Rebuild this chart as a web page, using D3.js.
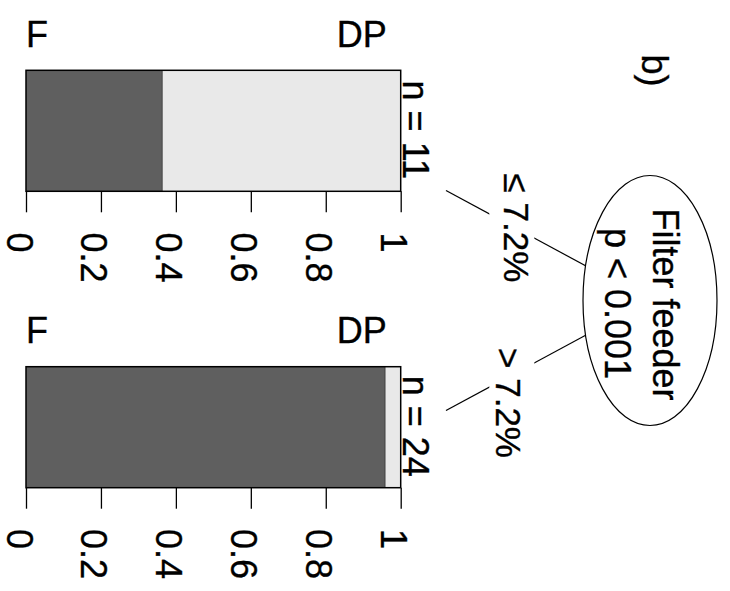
<!DOCTYPE html>
<html>
<head>
<meta charset="utf-8">
<script src="https://cdn.jsdelivr.net/npm/d3@7"></script>
<style>
  body { margin: 0; background: #fff; }
  text { font-family: "Liberation Sans", Arial, sans-serif; font-size: 36px; fill: #000; stroke: #000; stroke-width: 0.35px; }
</style>
</head>
<body>
<svg class="chart"></svg>
<script>
// tree: one split on filter feeder share, two terminal nodes
var splitVar = "Filter feeder";
var splitP = "p < 0.001";
var edgeLabels = ["\u2264 7.2%", "> 7.2%"];
var classes = ["F", "DP"];
var countF = [4, 23];
var countDP = [7, 1];
var tickValues = [0, 0.2, 0.4, 0.6, 0.8, 1];
var tickLabels = ["0", "0.2", "0.4", "0.6", "0.8", "1"];
var panelLabel = "b)";

var width = 730,
    height = 591;

var colors = ["#5f5f5f", "#e9e9e9"];

var chart = d3.select(".chart")
    .attr("width", width)
    .attr("height", height);

// proportion scale, shared by both terminal panels
var x = d3.scaleLinear()
    .domain([0, 1])
    .range([26, 400.7]);

var panelTop = [70.3, 366.7];
var barH = 121;

var root = {cx: 650, cy: 300.5, rx: 67, ry: 125};
var childX = 446;
var childY = [root.cy - 110, root.cy + 110];
var labelShift = [[2.5, 2], [-6, 28]];

// edges first, the ellipse covers their start
childY.forEach(function(cy, i) {
  chart.append("line")
    .attr("x1", root.cx).attr("y1", root.cy)
    .attr("x2", childX).attr("y2", cy)
    .attr("stroke", "#000").attr("stroke-width", 1.2);
  var gx = 511.8,
      gy = root.cy + (cy - root.cy) * (root.cx - gx) / (root.cx - childX);
  chart.append("rect")
    .attr("x", gx - 22.5).attr("y", gy - 14)
    .attr("width", 45).attr("height", 28)
    .attr("fill", "#fff");
  chart.append("text")
    .attr("transform", "translate(" + (gx + labelShift[i][0] - 10) + "," + (gy + labelShift[i][1]) + ") rotate(90)")
    .attr("text-anchor", "middle")
    .style("font-size", "35px")
    .text(edgeLabels[i]);
});

chart.append("ellipse")
  .attr("cx", root.cx).attr("cy", root.cy)
  .attr("rx", root.rx).attr("ry", root.ry)
  .attr("fill", "#fff")
  .attr("stroke", "#000")
  .attr("stroke-width", 1.2);

chart.append("text")
  .attr("transform", "translate(653," + (root.cy + 4) + ") rotate(90)")
  .attr("text-anchor", "middle")
  .text(splitVar);

chart.append("text")
  .attr("transform", "translate(605," + (root.cy + 3) + ") rotate(90)")
  .attr("text-anchor", "middle")
  .text(splitP);

chart.append("text")
  .attr("transform", "translate(642.4,54.5) rotate(90)")
  .attr("text-anchor", "start")
  .text(panelLabel);

// terminal nodes
var nodes = countF.map(function(f, i) {
  var n = f + countDP[i];
  return {n: n, props: [f / n, countDP[i] / n], top: panelTop[i]};
});

var node = chart.selectAll("g.node")
    .data(nodes)
  .enter().append("g")
    .attr("class", "node")
    .attr("transform", function(d) { return "translate(0," + d.top + ")"; });

node.selectAll("rect.seg")
    .data(function(d) {
      var acc = 0;
      return d.props.map(function(p, k) {
        var s = {x0: acc, x1: acc + p, k: k};
        acc += p;
        return s;
      });
    })
  .enter().append("rect")
    .attr("class", "seg")
    .attr("x", function(s) { return x(s.x0); })
    .attr("width", function(s) { return x(s.x1) - x(s.x0); })
    .attr("y", 0)
    .attr("height", barH)
    .attr("fill", function(s) { return colors[s.k]; });

node.append("line")
    .attr("x1", function(d) { return x(d.props[0]); })
    .attr("x2", function(d) { return x(d.props[0]); })
    .attr("y1", 0).attr("y2", barH)
    .attr("stroke", "#333").attr("stroke-width", 0.8);

node.append("rect")
    .attr("x", x(0)).attr("y", 0)
    .attr("width", x(1) - x(0)).attr("height", barH)
    .attr("fill", "none")
    .attr("stroke", "#000")
    .attr("stroke-width", 1.5);

node.append("text")
    .attr("x", x(0))
    .attr("y", -23.5)
    .attr("text-anchor", "start")
    .text(classes[0]);

node.append("text")
    .attr("x", x(1) - 14)
    .attr("y", -23.5)
    .attr("text-anchor", "end")
    .text(classes[1]);

node.append("text")
    .attr("transform", "translate(403," + (barH / 2 - 1) + ") rotate(90)")
    .attr("text-anchor", "middle")
    .text(function(d) { return "n = " + d.n; });

var axis = d3.axisBottom(x)
    .tickValues(tickValues)
    .tickFormat(function(v, i) { return tickLabels[i]; })
    .tickSize(21)
    .tickSizeOuter(0);

node.append("g")
    .attr("transform", "translate(0," + barH + ")")
    .call(axis)
    .call(function(g) {
      g.select(".domain").remove();
      g.selectAll(".tick line").attr("stroke", "#000").attr("stroke-width", 1.3);
      g.selectAll(".tick text")
        .attr("fill", "#000")
        .attr("dy", null)
        .attr("x", 41.3)
        .attr("y", 20)
        .attr("text-anchor", "start")
        .attr("transform", "rotate(90)");
    })
    .attr("font-size", null)
    .attr("font-family", null);
</script>
</body>
</html>
